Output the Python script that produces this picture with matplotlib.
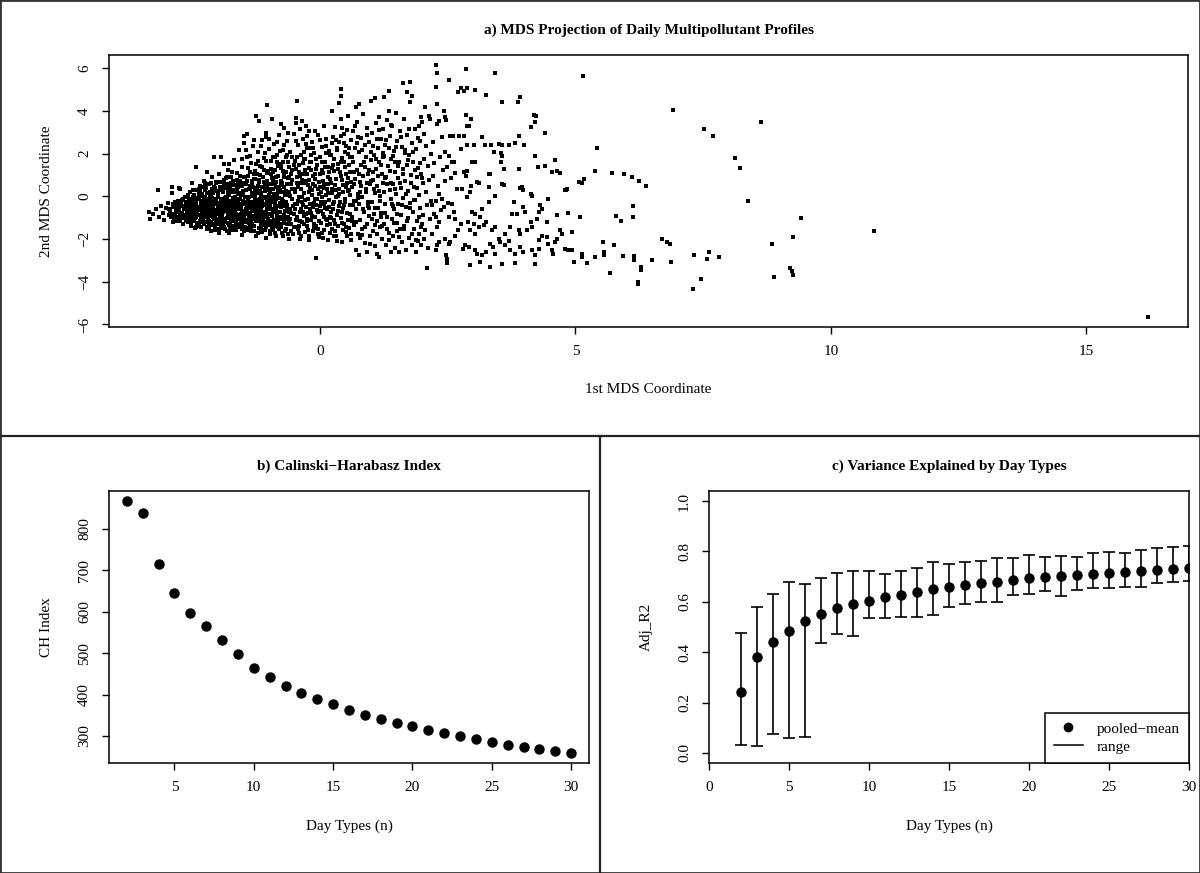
import numpy as np
import matplotlib.pyplot as plt
from matplotlib.lines import Line2D
from matplotlib.patches import Rectangle

plt.rcParams['font.family'] = ['Liberation Serif', 'DejaVu Serif']

# a) MDS coordinates, read off the picture strip by strip (1st, 2nd)
mds_left = [
    (-3.35, -0.72), (-3.32, -1.05), (-3.28, -0.85), (-3.22, -0.60), (-3.18, 0.27), (-3.15, -0.95), (-3.12, -0.45),
    (-3.08, -0.78), (-3.05, -1.12), (-3.02, -0.55), (-2.98, -0.30), (-2.96, -0.90), (-2.93, -0.68), (-2.90, 0.15),
    (-2.89, 0.41), (-2.88, -1.20), (-2.86, -0.40), (-2.84, -0.82), (-2.82, -0.58), (-2.80, -1.02), (-2.78, -0.20),
    (-2.76, 0.38), (-2.76, -0.70), (-2.74, 0.35), (-2.72, -0.95), (-2.70, -0.48), (-2.68, -1.28), (-2.66, -0.62),
    (-2.64, -0.05), (-2.62, -0.88), (-2.61, -0.35), (-2.60, -1.10),
    (-2.58, -0.42), (-2.57, -1.05), (-2.56, -0.15), (-2.55, -0.72), (-2.54, 0.22), (-2.53, -1.38), (-2.52, -0.55),
    (-2.51, -0.92), (-2.50, 0.64), (-2.49, -0.28), (-2.48, -1.18), (-2.47, -0.63), (-2.46, 0.05), (-2.45, -0.85),
    (-2.44, -1.50), (-2.43, 1.35), (-2.43, -0.38), (-2.42, -0.98), (-2.41, 0.31), (-2.40, -0.70), (-2.39, -1.25),
    (-2.38, -0.12), (-2.37, -0.52), (-2.36, 0.48), (-2.35, -0.88), (-2.34, -1.42), (-2.33, -0.30), (-2.32, 0.12),
    (-2.31, -0.78), (-2.30, -1.08), (-2.29, -0.45), (-2.28, 0.72), (-2.27, -1.32), (-2.26, -0.60), (-2.25, -0.02),
    (-2.24, -0.95), (-2.23, 0.38), (-2.22, -0.22), (-2.21, 1.12), (-2.21, -1.55), (-2.20, -0.68),
    (-2.19, -0.35), (-2.18, 0.55), (-2.17, -1.15), (-2.16, -0.80), (-2.15, 0.18), (-2.14, -1.62), (-2.13, -0.50),
    (-2.12, 0.88), (-2.11, -0.10), (-2.10, -1.28), (-2.09, -0.65), (-2.08, 0.32), (-2.07, 1.86), (-2.06, -0.92),
    (-2.05, -1.45), (-2.04, -0.25), (-2.03, 0.68), (-2.02, -0.75), (-2.01, -1.05), (-2.00, 0.05), (-1.99, -0.42),
    (-1.98, 1.02), (-1.97, -1.70), (-1.96, -0.58), (-1.95, 0.42), (-1.94, -1.20), (-1.93, 1.86), (-1.93, -0.18),
    (-1.92, -0.88), (-1.91, 0.22), (-1.90, -1.38), (-1.89, -0.32), (-1.88, 1.52), (-1.88, 0.75), (-1.87, -0.70),
    (-1.86, -1.52), (-1.85, -0.05), (-1.84, 0.52), (-1.83, -1.00), (-1.82, -0.48), (-1.81, 1.25), (-1.80, -1.25),
    (-1.80, 0.15),
]

mds_core = [
    (-1.79, -0.62), (-1.78, 1.52), (-1.78, -1.72), (-1.77, 0.35), (-1.76, -0.22), (-1.75, -0.95), (-1.74, 0.92),
    (-1.73, -1.40), (-1.72, -0.40), (-1.71, 0.58), (-1.70, -0.08), (-1.69, -1.15), (-1.68, 1.68), (-1.67, -0.72),
    (-1.66, 0.20), (-1.65, -1.58), (-1.64, -0.52), (-1.63, 1.10), (-1.62, -0.30), (-1.61, -0.88), (-1.60, 0.45),
    (-1.59, -1.30), (-1.58, 2.15), (-1.58, -0.15), (-1.57, 0.72), (-1.56, -1.05), (-1.55, -0.60), (-1.54, 0.08),
    (-1.53, -1.82), (-1.52, 1.35), (-1.51, -0.38), (-1.50, -0.98), (-1.49, 0.62), (-1.48, 2.83), (-1.48, 2.50),
    (-1.47, -1.22), (-1.46, -0.25), (-1.45, 0.30), (-1.44, 2.90), (-1.44, -0.75), (-1.43, 1.85), (-1.42, -1.48),
    (-1.41, 0.95), (-1.40, -0.02), (-1.40, -0.55),
    (-1.39, -1.10), (-1.38, 0.48), (-1.37, -0.35), (-1.36, 1.55), (-1.35, -1.65), (-1.34, -0.68), (-1.33, 0.15),
    (-1.32, 2.35), (-1.31, -0.92), (-1.30, 0.82), (-1.29, -1.38), (-1.28, -0.12), (-1.27, 1.20), (-1.26, -0.50),
    (-1.25, 3.77), (-1.25, -1.85), (-1.24, 0.38), (-1.23, -0.80), (-1.22, 2.05), (-1.21, -0.28), (-1.20, -1.18),
    (-1.19, 3.54), (-1.19, 0.65), (-1.18, -0.58), (-1.17, 1.42), (-1.16, -1.52), (-1.15, 0.02), (-1.14, -0.95),
    (-1.13, 2.62), (-1.12, 0.92), (-1.11, -0.40), (-1.10, -1.28), (-1.09, 1.78), (-1.08, 0.25), (-1.07, -0.72),
    (-1.06, -1.95), (-1.05, 2.98), (-1.05, 2.79), (-1.04, 4.28), (-1.04, -0.18), (-1.03, 1.08), (-1.02, -1.05),
    (-1.01, 0.55), (-1.00, -0.48), (-1.00, 2.22),
    (-0.99, -1.62), (-0.98, 0.18), (-0.97, 1.65), (-0.96, -0.85), (-0.95, -0.05), (-0.94, 3.63), (-0.94, -1.35),
    (-0.93, 0.75), (-0.92, -0.60), (-0.91, 2.45), (-0.90, -1.12), (-0.89, 1.25), (-0.88, -0.30), (-0.87, -1.88),
    (-0.86, 0.42), (-0.85, 1.95), (-0.84, -0.78), (-0.83, -1.45), (-0.82, 0.95), (-0.81, -0.10), (-0.80, 2.85),
    (-0.79, -1.02), (-0.78, 0.30), (-0.77, 1.52), (-0.76, 3.40), (-0.76, -0.52), (-0.75, -1.70), (-0.74, 0.62),
    (-0.73, 2.18), (-0.72, -0.22), (-0.71, -1.25), (-0.70, 3.21), (-0.70, 1.08), (-0.69, -0.70), (-0.68, 0.05),
    (-0.67, 1.82), (-0.66, -1.52), (-0.65, -0.40), (-0.64, 2.60), (-0.63, 0.85), (-0.62, -0.95), (-0.61, 1.38),
    (-0.60, -1.98), (-0.60, 0.22),
    (-0.59, -0.62), (-0.58, 2.05), (-0.57, -1.32), (-0.56, 0.55), (-0.55, -0.15), (-0.54, 1.22), (-0.53, -1.75),
    (-0.52, 2.92), (-0.51, -0.85), (-0.50, 0.32), (-0.49, 1.65), (-0.48, -1.10), (-0.47, 3.68), (-0.47, 3.45),
    (-0.46, -0.38), (-0.45, 4.45), (-0.45, 0.88), (-0.44, -1.55), (-0.43, 2.38), (-0.42, -0.05), (-0.41, 1.45),
    (-0.40, -0.72), (-0.39, -2.02), (-0.38, 0.62), (-0.37, 1.92), (-0.36, -1.22), (-0.35, 3.54), (-0.35, -0.28),
    (-0.34, 1.05), (-0.33, 2.70), (-0.32, -0.92), (-0.31, 0.15), (-0.30, -1.68), (-0.29, 1.75), (-0.28, -0.50),
    (-0.27, 3.30), (-0.27, 0.72), (-0.26, -1.38), (-0.25, 2.25), (-0.24, -0.12), (-0.23, -0.80), (-0.22, 1.30),
    (-0.21, 3.07), (-0.21, -1.85), (-0.20, 0.40),
    (-0.19, -0.58), (-0.18, 1.58), (-0.17, -1.12), (-0.16, 2.55), (-0.15, 0.08), (-0.14, -1.62), (-0.13, 0.95),
    (-0.12, -0.32), (-0.11, 2.02), (-0.10, -0.95), (-0.09, 0.48), (-0.08, -2.91), (-0.08, -1.40), (-0.07, 1.28),
    (-0.06, -0.15), (-0.05, 2.88), (-0.04, -0.75), (-0.03, 0.68), (-0.02, -1.90), (-0.01, 1.82), (0.00, -0.45),
    (0.01, 0.22), (0.02, -1.25), (0.03, 2.32), (0.04, -0.05), (0.05, 1.10), (0.06, -0.82), (0.07, -1.58),
    (0.08, 3.30), (0.08, 0.55), (0.09, -0.28), (0.10, 1.62), (0.11, -1.05), (0.12, 2.68), (0.13, 0.32),
    (0.14, -0.62), (0.15, -2.05), (0.16, 1.35), (0.17, -0.18), (0.18, 2.10), (0.19, -1.32), (0.20, 0.82),
]

mds_dense = [
    (-2.95, -0.62), (-2.91, -0.95), (-2.87, -0.38), (-2.83, -1.15), (-2.79, -0.50), (-2.75, -0.82), (-2.71, -0.18),
    (-2.67, -1.02), (-2.63, -0.58), (-2.59, -1.22), (-2.56, -0.32), (-2.53, -0.80), (-2.49, -0.05), (-2.46, -1.12),
    (-2.44, -0.48), (-2.41, -1.30), (-2.38, -0.88), (-2.35, 0.25), (-2.33, -0.62), (-2.30, -0.20), (-2.27, -0.98),
    (-2.24, 0.48), (-2.22, -1.42), (-2.19, -0.72), (-2.16, -0.08), (-2.14, -1.20), (-2.11, 0.35), (-2.09, -0.48),
    (-2.06, -1.58), (-2.04, 0.62), (-2.01, -0.85), (-1.99, 0.12), (-1.96, -1.32), (-1.94, -0.62), (-1.92, 0.45),
    (-1.89, -1.08), (-1.87, -0.22), (-1.85, 0.85), (-1.82, -1.62), (-1.80, -0.52), (-1.78, 0.05), (-1.76, -1.25),
    (-1.74, 0.62), (-1.72, -0.78), (-1.70, -1.48), (-1.68, 0.30), (-1.66, -0.35), (-1.64, -1.02), (-1.62, 0.78),
    (-1.60, -0.62), (-1.58, -1.45), (-1.56, 0.15), (-1.54, -0.85), (-1.52, 0.48), (-1.50, -0.22), (-1.48, -1.65),
    (-1.46, 0.88), (-1.44, -0.45), (-1.42, -1.12), (-1.40, 0.32), (-1.38, -0.78), (-1.36, -1.52), (-1.34, 0.62),
    (-1.32, -0.25), (-1.30, 1.05), (-1.28, -1.05), (-1.26, 0.18), (-1.24, -0.55), (-1.22, -1.72), (-1.20, 0.75),
    (-1.18, -0.12), (-1.16, -1.32), (-1.14, 0.42), (-1.12, -0.82), (-1.10, 1.25), (-1.08, -1.58), (-1.06, -0.35),
    (-1.04, 0.72), (-1.02, -1.15), (-1.00, 0.08), (-0.98, -0.62), (-0.96, 1.05), (-0.94, -1.42), (-0.92, 0.32),
    (-0.90, -0.28), (-0.88, -1.72), (-0.86, 0.68), (-0.84, -0.95), (-0.82, 1.42), (-0.80, -0.48), (-0.78, -1.28),
    (-0.76, 0.52), (-0.74, -0.15), (-0.72, 1.18), (-0.70, -0.88), (-0.68, -1.62), (-0.66, 0.25), (-0.64, -0.55),
    (-0.62, 1.62), (-0.60, -1.18), (-0.58, 0.02), (-0.56, -0.78), (-0.54, 0.78), (-0.52, -1.42), (-0.50, -0.35),
    (-0.48, 1.28), (-0.46, -0.98), (-0.44, 0.42), (-0.42, -1.72), (-0.40, 0.95), (-0.38, -0.58), (-0.36, -0.05),
    (-0.34, 1.55), (-0.32, -1.30), (-0.30, 0.62), (-0.28, -0.82), (-0.26, 1.02), (-0.24, -1.58), (-0.22, 0.18),
    (-0.20, -0.38), (-0.18, 1.25), (-0.16, -0.92), (-0.14, 0.55), (-0.12, -1.48), (-0.10, -0.12), (-0.08, 1.72),
    (-0.06, -0.65), (-0.04, 0.32), (-0.02, -1.15), (0.00, 1.05), (0.02, -0.28), (0.04, -1.72), (0.06, 0.72),
    (0.08, -0.95), (0.10, 1.38), (0.12, 0.05), (0.14, -1.35), (0.16, 0.92), (0.18, -0.52), (0.20, 1.92),
    (0.22, -1.02), (0.24, 0.35), (0.26, 1.45), (0.28, -0.25), (0.30, -1.62), (0.32, 0.82), (0.34, 2.25),
    (0.36, -0.68), (0.38, 0.12), (0.40, 1.62), (0.42, -1.25), (0.44, 0.52), (0.46, -0.42), (0.48, 2.05),
    (0.50, 1.02), (0.52, -1.85), (0.54, 0.25), (0.56, 1.48), (0.58, -0.85), (0.60, 0.68),
    (-2.32, -1.05), (-2.29, -0.35), (-2.26, -0.78), (-2.23, -0.15), (-2.20, -1.22), (-2.17, -0.55), (-2.15, 0.10),
    (-2.12, -0.92), (-2.10, -0.28), (-2.07, 0.45), (-2.05, -0.65), (-2.02, -1.30), (-2.00, -0.05), (-1.97, -0.42),
    (-1.95, -0.95), (-1.93, 0.28), (-1.90, -0.75), (-1.88, -1.42), (-1.86, -0.08), (-1.83, 0.55), (-1.81, -0.92),
    (-1.79, -0.28), (-1.77, -1.55), (-1.75, 0.22), (-1.73, -0.58), (-1.71, -1.12), (-1.69, 0.52), (-1.67, -0.15),
    (-1.65, -0.85), (-1.63, -1.38), (-1.61, 0.12), (-1.59, -0.48), (-1.57, 0.62), (-1.55, -1.22), (-1.53, -0.68),
    (-1.51, 0.25), (-1.49, -1.02), (-1.47, -0.38), (-1.45, 0.55), (-1.43, -1.58), (-1.41, -0.12), (-1.39, -0.92),
    (-1.37, 0.35), (-1.35, -0.52), (-1.33, -1.28), (-1.31, 0.02), (-1.29, -0.65), (-1.27, 0.82), (-1.25, -1.15),
    (-1.23, -0.32), (-1.21, 0.48), (-1.19, -0.88), (-1.17, -1.48), (-1.15, 0.15), (-1.13, -0.45), (-1.11, 0.92),
    (-1.09, -1.22), (-1.07, -0.05), (-1.05, -0.72), (-1.03, 0.38), (-1.01, -1.35), (-0.99, -0.25), (-0.97, 0.58),
    (-0.95, -0.92), (-0.93, -1.58), (-0.91, 0.12), (-0.89, -0.52), (-0.87, 0.88), (-0.85, -1.18), (-0.83, -0.08),
    (-0.81, 0.45), (-0.79, -0.72), (-0.77, -1.45), (-0.75, 0.18), (-0.73, -0.42), (-0.71, 0.92), (-0.69, -1.05),
    (-0.67, -0.25), (-0.65, 0.58), (-0.63, -1.75),
]

# second pass over the saturated core
mds_fill_core = [
    (-2.90, -0.82), (-2.88, -0.52), (-2.86, -1.02), (-2.84, -0.28), (-2.82, -0.75), (-2.80, -0.35), (-2.78, -0.95),
    (-2.76, -0.55), (-2.74, -1.15), (-2.72, -0.30), (-2.70, -0.78), (-2.68, -0.12), (-2.66, -0.92), (-2.64, -0.45),
    (-2.62, -1.18), (-2.60, -0.68), (-2.58, 0.05), (-2.56, -0.98), (-2.54, -0.62), (-2.52, -1.30), (-2.50, -0.40),
    (-2.48, 0.28), (-2.46, -0.75), (-2.44, -1.02), (-2.42, -0.18), (-2.40, -0.52), (-2.38, -1.38), (-2.36, -0.65),
    (-2.34, 0.02), (-2.32, -0.42), (-2.30, 0.45), (-2.28, -0.85), (-2.26, -1.20), (-2.24, -0.32), (-2.22, 0.15),
    (-2.20, -0.92), (-2.18, -1.45), (-2.16, -0.40), (-2.14, 0.62), (-2.12, -0.68), (-2.10, 0.15), (-2.08, -1.08),
    (-2.06, -0.38), (-2.04, -1.25), (-2.02, 0.25), (-2.00, -0.62), (-1.98, -1.55), (-1.96, 0.68), (-1.94, -0.15),
    (-1.92, -1.05), (-1.90, -0.50), (-1.88, 0.38), (-1.86, -1.22), (-1.84, -0.30), (-1.82, 0.92), (-1.80, -0.78),
    (-1.78, -1.35), (-1.76, 0.48), (-1.74, -0.42), (-1.72, -1.60), (-1.70, 0.72), (-1.68, -0.92), (-1.66, -0.05),
    (-1.64, -1.28), (-1.62, 0.35), (-1.60, -0.32), (-1.58, -1.05), (-1.56, 0.95), (-1.54, -0.48), (-1.52, -1.35),
    (-1.50, 0.12), (-1.48, -0.78), (-1.46, -1.45), (-1.44, 0.72), (-1.42, -0.28), (-1.40, -1.25), (-1.38, 1.12),
    (-1.36, -0.45), (-1.34, -0.98), (-1.32, 0.42), (-1.30, -1.62), (-1.28, 0.28), (-1.26, -0.82), (-1.24, 1.02),
    (-1.22, -0.42), (-1.20, -1.48), (-1.18, 0.25), (-1.16, -0.72), (-1.14, 1.38), (-1.12, -1.12), (-1.10, -0.08),
    (-1.08, 0.58), (-1.06, -1.42), (-1.04, -0.55), (-1.02, 1.18), (-1.00, -0.85), (-0.98, -1.78), (-0.96, 0.35),
    (-0.94, -0.22), (-0.92, 1.15), (-0.90, -1.35), (-0.88, 0.55), (-0.86, -0.62), (-0.84, 1.62), (-0.82, -1.22),
    (-0.80, 0.18), (-0.78, -0.32), (-0.76, 1.32), (-0.74, -1.05), (-0.72, -1.85), (-0.70, 0.45), (-0.68, -0.48),
    (-0.66, 1.15), (-0.64, -1.28), (-0.62, 0.05), (-0.60, 0.92), (-0.58, -1.05), (-0.56, -1.62), (-0.54, 0.32),
    (-0.52, 1.48), (-0.50, -0.62), (-0.48, -1.45), (-0.46, 0.62), (-0.44, -0.22), (-0.42, 1.12), (-0.40, -1.18),
    (-0.38, -1.88), (-0.36, 0.78), (-0.34, -0.42), (-0.32, 1.72),
    (-2.57, -0.78), (-2.51, -0.18), (-2.47, -0.95), (-2.43, -0.62), (-2.39, -0.08), (-2.35, -1.15), (-2.31, -0.55),
    (-2.27, -0.12), (-2.23, -0.62), (-2.19, -1.02), (-2.15, -0.28), (-2.11, -1.35), (-2.07, -0.82), (-2.03, -0.12),
    (-1.99, -1.12), (-1.95, -0.35), (-1.91, -0.65), (-1.87, -1.18), (-1.83, -0.15), (-1.79, -0.68), (-1.75, -1.08),
    (-1.71, -0.25), (-1.67, -0.62), (-1.63, 0.22), (-1.59, -0.88), (-1.55, -0.35), (-1.51, -1.18), (-1.47, -0.05),
    (-1.43, -0.85), (-1.39, -0.28), (-1.35, -1.12), (-1.31, -0.48), (-1.27, 0.05), (-1.23, -1.02), (-1.19, -0.18),
    (-1.15, -0.65), (-1.11, -1.35), (-1.07, 0.28), (-1.03, -0.92), (-0.99, -0.42), (-0.95, 0.58), (-0.91, -1.15),
    (-0.87, -0.15), (-0.83, 0.28), (-0.79, -0.95),
    (-1.52, 1.72), (-1.45, 2.18), (-1.38, 1.88), (-1.30, 2.62), (-1.22, 1.65), (-1.15, 2.35), (-1.08, 2.02),
    (-1.00, 2.68), (-0.92, 1.85), (-0.85, 2.55), (-0.78, 2.12), (-0.70, 2.42), (-0.62, 2.95), (-0.55, 1.82),
    (-0.48, 2.58), (-0.40, 3.15), (-0.32, 2.05), (-0.25, 2.82), (-0.18, 1.95), (-0.10, 3.05),
    (-2.45, -0.22), (-2.41, -0.78), (-2.37, 0.12), (-2.33, -1.22), (-2.29, -0.68), (-2.25, 0.28), (-2.21, -0.48),
    (-2.17, -1.32), (-2.13, 0.02), (-2.09, -0.95), (-2.05, 0.38), (-2.01, -0.32), (-1.97, -0.78), (-1.93, -1.48),
    (-1.89, 0.62), (-1.85, -0.58), (-1.81, 0.32), (-1.77, -0.95), (-1.73, 1.15), (-1.69, -0.45), (-1.65, -1.22),
    (-1.61, 0.55), (-1.57, -0.12), (-1.53, -1.55), (-1.49, 0.88), (-1.45, -0.62), (-1.41, 1.32), (-1.37, -1.35),
    (-1.33, 0.72), (-1.29, -0.32), (-1.25, 1.52), (-1.21, -0.65), (-1.17, 0.98), (-1.13, -1.68), (-1.09, 0.45),
    (-1.05, 1.65), (-1.01, -0.12), (-0.97, 1.28), (-0.93, -0.72), (-0.89, 1.85), (-0.85, 0.12), (-0.81, -1.55),
    (-0.77, 0.72), (-0.73, 1.58), (-0.69, -0.32), (-0.65, 1.95), (-0.61, -0.72), (-0.57, 1.02), (-0.53, -0.45),
    (-0.49, 0.18), (-0.45, 1.85), (-0.41, -1.38), (-0.37, 0.35), (-0.33, -0.75), (-0.29, 1.22), (-0.25, -1.18),
    (-0.21, 0.78), (-0.17, 2.28), (-0.13, -0.52), (-0.09, 1.05), (-0.05, -1.75), (-0.01, 0.45),
    (-2.62, -0.25), (-2.58, -0.95), (-2.54, -1.12), (-2.50, -0.72), (-2.46, -0.05), (-2.42, -1.45), (-2.38, 0.35),
    (-2.34, -0.95), (-2.30, -0.38), (-2.26, 0.62), (-1.22, 0.15), (-1.18, -1.05), (-1.14, -0.28), (-1.10, 0.65),
    (-1.06, -0.98), (-1.02, 0.28), (-0.98, -1.15), (-0.94, 0.85), (-0.90, 0.05), (-0.86, -1.38),
]

mds_fill_mid = [
    (-0.30, -0.18), (-0.28, 2.45), (-0.26, -1.05), (-0.24, 0.52), (-0.22, -2.05), (-0.20, 1.58), (-0.18, -0.78),
    (-0.16, 0.28), (-0.14, 2.25), (-0.12, -1.28), (-0.10, 0.82), (-0.08, -0.42), (-0.06, 1.48), (-0.04, -1.52),
    (-0.02, 0.12), (0.00, 2.62), (0.02, -0.68), (0.04, 1.25), (0.06, -1.95), (0.08, 0.38), (0.10, -0.55),
    (0.12, 2.02), (0.14, -1.12), (0.16, 0.15), (0.18, 1.15), (0.20, -1.72), (0.22, 0.62), (0.24, 2.48),
    (0.26, -0.58), (0.28, 1.72), (0.30, -1.32), (0.32, 0.28), (0.34, -2.08), (0.36, 1.28), (0.38, -0.45),
    (0.40, 2.82), (0.42, 0.78), (0.44, -1.58), (0.46, 1.62), (0.48, -0.28), (0.50, 0.42), (0.52, 3.08),
    (0.54, -1.12), (0.56, 2.28), (0.58, 0.05), (0.60, -1.75), (0.62, 1.85), (0.64, -0.42), (0.66, 0.58),
    (0.68, 3.28), (0.70, -1.22), (0.72, 2.48), (0.74, -0.08), (0.76, 1.05), (0.78, -1.95), (0.80, 0.48),
    (0.82, 2.15), (0.84, -0.62), (0.86, 1.62), (0.88, -1.45), (0.90, 0.18), (0.92, 2.85), (0.94, -0.25),
    (0.96, 1.25), (0.98, -2.25), (1.00, 0.72), (1.02, -1.05), (1.04, 2.35), (1.06, 0.35), (1.08, -0.55),
    (1.10, 1.75), (1.12, -1.75), (1.14, 0.95), (1.16, 3.12), (1.18, -0.22), (1.20, 1.48), (1.22, -1.38),
    (1.24, 2.02), (1.26, 0.18), (1.28, -0.78), (1.30, 2.62), (1.32, 0.55), (1.34, -2.05), (1.36, 1.18),
    (1.38, 3.35), (1.40, -0.35), (1.42, 1.88), (1.44, -1.25), (1.46, 0.35), (1.48, 2.32), (1.50, -0.85),
    (1.52, 1.42), (1.54, -1.92), (1.56, 0.62), (1.58, 2.75), (1.60, -0.42), (1.62, 1.05), (1.64, -1.55),
    (1.66, 2.18), (1.68, 0.12), (1.70, -1.15), (1.72, 1.68), (1.74, 3.15), (1.76, -0.55), (1.78, 0.62),
    (1.80, -1.78), (1.82, 2.05), (1.84, -0.18), (1.86, 1.25), (1.88, -2.05), (1.90, 0.38), (1.92, 2.72),
    (1.94, -0.95), (1.96, 1.55), (1.98, -1.42), (2.00, 0.85),
    (0.03, 1.58), (0.07, -0.38), (0.11, 2.35), (0.15, 0.58), (0.19, -0.95), (0.23, 1.32), (0.27, -1.85),
    (0.31, 2.62), (0.35, 0.02), (0.39, 1.12), (0.43, -0.72), (0.47, 2.48), (0.51, -1.45), (0.55, 0.85),
    (0.59, 1.82), (0.63, -1.18), (0.67, 1.12), (0.71, -0.22), (0.75, 2.75), (0.79, 0.22), (0.83, -1.82),
    (0.87, 1.35), (0.91, 0.62), (0.95, -0.55), (0.99, 2.05), (1.03, 1.12), (1.07, -1.35), (1.11, 2.68),
    (1.15, 0.25), (1.19, -0.95), (1.23, 1.82), (1.27, 0.85), (1.31, -1.55), (1.35, 2.25), (1.39, 0.62),
    (1.43, -0.48), (1.47, 1.58), (1.51, -1.62),
]

mds_mid = [
    (0.21, -0.72), (0.22, 1.95), (0.23, 4.00), (0.23, -1.55), (0.24, 0.15), (0.25, 2.78), (0.26, -0.38),
    (0.27, 1.18), (0.28, -1.12), (0.29, 3.22), (0.30, 0.52), (0.31, -1.88), (0.32, -0.05), (0.33, 2.15),
    (0.34, -0.88), (0.35, 1.52), (0.36, -1.40), (0.37, 4.38), (0.37, 0.35), (0.38, 2.52), (0.39, -0.25),
    (0.40, 5.03), (0.40, 4.71), (0.40, -1.02), (0.41, 3.63), (0.41, 0.95), (0.42, -2.15), (0.43, 3.21),
    (0.43, 1.78), (0.44, -0.55), (0.45, 0.18), (0.46, 2.92), (0.47, -1.28), (0.48, 1.35), (0.49, -0.12),
    (0.50, -1.68), (0.51, 2.35), (0.52, 0.62), (0.53, -0.78), (0.54, 1.98), (0.55, 3.75), (0.56, -1.48),
    (0.57, 0.28), (0.58, 1.12), (0.59, -0.42), (0.60, 2.65),
    (0.61, -2.05), (0.62, 0.45), (0.63, -0.95), (0.64, 1.62), (0.65, 3.05), (0.66, -0.20), (0.67, -1.35),
    (0.68, 2.28), (0.69, 0.82), (0.70, 4.16), (0.70, -2.54), (0.71, -0.62), (0.72, 1.25), (0.73, 3.48),
    (0.74, 0.10), (0.75, -1.75), (0.76, 4.32), (0.76, -2.77), (0.76, 2.05), (0.77, -0.35), (0.78, 0.68),
    (0.79, -1.10), (0.80, 2.72), (0.81, 1.48), (0.82, -0.05), (0.83, -1.52), (0.84, 3.85), (0.85, 0.95),
    (0.86, -0.72), (0.87, 2.38), (0.88, -2.20), (0.89, 0.32), (0.90, 1.85), (0.91, -1.28), (0.92, -2.62),
    (0.92, 3.20), (0.93, -0.45), (0.94, 1.05), (0.95, -0.92), (0.96, 2.52), (0.97, 0.55), (0.98, -1.88),
    (0.99, 4.47), (0.99, 1.68),
    (1.01, -0.28), (1.02, 2.95), (1.03, -1.62), (1.04, 0.78), (1.05, 1.92), (1.06, -0.85), (1.07, 4.58),
    (1.07, 0.15), (1.08, -2.35), (1.09, 3.42), (1.10, 1.28), (1.11, -1.18), (1.12, -2.69), (1.12, 0.48),
    (1.13, 2.25), (1.14, -0.55), (1.15, -2.85), (1.15, 3.72), (1.16, 1.58), (1.17, -1.45), (1.18, 0.02),
    (1.19, 2.68), (1.20, -0.78), (1.21, 1.02), (1.22, -2.02), (1.23, 3.15), (1.24, 0.62), (1.25, 4.63),
    (1.25, -1.30), (1.26, 1.88), (1.27, -0.38), (1.28, 2.42), (1.29, -2.28), (1.30, 0.92), (1.31, 3.58),
    (1.32, -0.95), (1.33, 1.40), (1.34, -1.72), (1.35, 4.94), (1.35, 4.00), (1.36, 0.30), (1.37, 2.80),
    (1.38, -2.62), (1.38, -0.15), (1.39, 1.72), (1.40, -1.05),
    (1.41, 3.30), (1.42, 0.55), (1.43, -1.88), (1.44, 2.12), (1.45, -0.62), (1.46, 1.15), (1.47, -2.40),
    (1.48, 3.88), (1.49, 0.12), (1.50, -1.25), (1.51, 2.58), (1.52, 0.85), (1.53, -0.35), (1.54, -2.62),
    (1.55, 1.62), (1.56, -1.55), (1.57, 3.05), (1.58, 0.38), (1.59, -0.88), (1.60, 2.30), (1.61, -2.15),
    (1.62, 1.28), (1.63, 5.30), (1.63, -0.10), (1.64, 3.62), (1.65, -1.40), (1.66, 0.72), (1.67, 2.02),
    (1.68, -2.50), (1.69, -0.52), (1.70, 1.45), (1.71, 4.89), (1.71, 2.85), (1.72, -1.02), (1.73, 0.25),
    (1.74, -1.95), (1.75, 1.95), (1.76, 5.36), (1.77, 4.39), (1.77, -0.30), (1.78, 0.98), (1.79, 4.71),
    (1.79, -2.28), (1.80, 2.48),
    (1.81, -0.75), (1.82, 1.62), (1.83, -1.52), (1.84, 0.42), (1.85, 3.15), (1.86, -0.18), (1.87, -2.62),
    (1.88, 2.20), (1.89, 0.88), (1.90, -1.15), (1.91, 1.30), (1.92, -2.10), (1.93, 3.30), (1.93, -1.76),
    (1.94, 0.05), (1.95, 2.60), (1.96, -0.55), (1.97, 3.69), (1.97, -2.30), (1.98, 1.05), (2.00, 3.46),
    (2.00, -1.29), (2.01, 0.62), (2.02, -0.88), (2.03, 2.92), (2.03, -1.99), (2.04, 1.75), (2.06, 4.16),
    (2.06, -1.60), (2.07, 0.20), (2.08, 2.35), (2.09, -0.42), (2.10, -3.35), (2.11, 1.42), (2.12, -2.40),
    (2.13, 3.77), (2.14, 0.75), (2.15, -1.05), (2.16, 3.62), (2.17, 1.98), (2.18, -0.20), (2.19, -0.43),
    (2.19, -1.76),
]

mds_right = [
    (2.21, 0.95), (2.22, 2.55), (2.23, -0.85), (2.24, 1.55), (2.26, 6.14), (2.26, 5.13), (2.26, -0.20),
    (2.26, -0.98), (2.26, -2.54), (2.28, 5.75), (2.28, 4.32), (2.29, 3.38), (2.29, -1.45), (2.29, -2.30),
    (2.30, 0.48), (2.32, 3.54), (2.32, 0.11), (2.32, -1.21), (2.32, -2.15), (2.34, 1.85), (2.36, -0.65),
    (2.38, 2.78), (2.39, -0.12), (2.40, 1.22), (2.42, -0.51), (2.43, 4.00), (2.44, 0.72), (2.45, 3.69),
    (2.45, 2.06), (2.45, -1.99), (2.46, -2.75), (2.47, 3.58), (2.48, 1.38), (2.49, -2.93), (2.49, -3.13),
    (2.50, -0.30), (2.52, 5.44), (2.52, 1.90), (2.52, -0.98), (2.52, -2.22), (2.54, 2.84), (2.55, -2.15),
    (2.56, 0.85), (2.58, -0.36), (2.58, 1.62),
    (2.61, 2.84), (2.62, 1.59), (2.62, -0.75), (2.64, 1.09), (2.65, -1.06), (2.65, -1.84), (2.68, 0.32),
    (2.70, 4.89), (2.71, -1.60), (2.72, 2.84), (2.75, 5.05), (2.75, -1.29), (2.76, 2.22), (2.78, 0.35),
    (2.80, -2.45), (2.81, 2.84), (2.81, 1.12), (2.82, 4.91), (2.83, -2.30), (2.85, 3.80), (2.85, 0.97),
    (2.86, 5.95), (2.87, 3.30), (2.88, 5.09), (2.88, 2.40), (2.88, 1.20), (2.88, -0.05), (2.90, -1.20),
    (2.91, -2.38), (2.92, 3.27), (2.94, 0.19), (2.94, -1.60), (2.94, -3.24), (2.96, 3.62), (2.96, 0.47),
    (2.97, 1.62), (2.97, -0.75),
    (3.01, 2.40), (3.01, -1.29), (3.04, 4.97), (3.04, 1.59), (3.04, -0.82), (3.04, -1.76), (3.04, -2.54),
    (3.07, 0.65), (3.07, -2.69), (3.11, 0.63), (3.11, -1.45), (3.14, -0.98), (3.14, -3.08), (3.17, 2.76),
    (3.17, -0.59), (3.17, -2.77), (3.20, -1.37), (3.22, 2.40), (3.24, 4.74), (3.24, -1.21), (3.24, -2.62),
    (3.30, 1.05), (3.30, 0.42), (3.30, -0.28), (3.33, 1.05), (3.33, -2.22), (3.33, -3.32), (3.35, 2.40),
    (3.37, -1.60), (3.38, -2.38), (3.40, 2.09), (3.43, 5.77), (3.43, 0.03), (3.43, -1.45), (3.43, -2.69),
    (3.50, 2.45), (3.50, -1.99),
    (3.53, -2.15), (3.54, 1.59), (3.55, 2.03), (3.56, 2.40), (3.56, 1.90), (3.56, 0.58), (3.56, -3.16),
    (3.57, 4.43), (3.61, 1.28), (3.61, 0.53), (3.62, -1.76), (3.63, -2.30), (3.69, 2.40), (3.69, -2.10),
    (3.72, -1.45), (3.72, -2.54), (3.76, -0.82), (3.79, -0.28), (3.81, 2.50), (3.81, -3.13), (3.82, -2.69),
    (3.85, -0.82), (3.87, 4.43), (3.89, 2.80), (3.89, -1.60), (3.90, 1.28), (3.91, 4.64), (3.92, 0.37),
    (3.92, -1.76), (3.92, -2.38), (3.95, 0.42), (3.98, 0.30), (3.98, -0.51), (3.98, -2.62),
    (4.00, 2.40), (4.02, -0.75), (4.05, -1.60), (4.12, 0.11), (4.12, -1.21), (4.13, 3.24), (4.15, 0.03),
    (4.15, -1.45), (4.15, -2.54), (4.18, 3.80), (4.20, 3.46), (4.20, 1.87), (4.21, -2.77), (4.21, -3.19),
    (4.22, 3.77), (4.24, -1.06), (4.26, 1.36), (4.28, -0.75), (4.28, -2.07), (4.28, -2.46), (4.31, -0.43),
    (4.34, -0.59), (4.34, -1.84), (4.41, 2.94), (4.41, 1.43), (4.44, -1.92), (4.44, -1.21), (4.47, -0.12),
    (4.47, -2.22), (4.54, 1.15), (4.54, -2.54), (4.56, -2.69), (4.59, 1.71), (4.60, -2.15), (4.63, 1.20),
    (4.64, -1.99), (4.64, -0.90), (4.70, 1.09), (4.70, -1.60), (4.73, -1.76), (4.80, 0.30), (4.80, -2.46),
    (4.83, 0.35), (4.85, -0.78), (4.86, -2.54), (4.93, -1.68), (4.93, -2.50), (4.98, -3.10), (5.06, 0.65),
]

mds_outliers = [
    (5.14, 5.63), (6.90, 4.05), (8.64, 3.46), (7.51, 3.16), (7.69, 2.80), (5.43, 2.28), (8.13, 1.81),
    (8.22, 1.31), (8.37, -0.20), (9.42, -1.00), (10.84, -1.62), (9.25, -1.90), (8.84, -2.23), (8.89, -3.77),
    (9.20, -3.35), (9.23, -3.52), (9.26, -3.69), (7.30, -4.35), (7.45, -3.89), (7.82, -2.86), (7.58, -2.96),
    (7.62, -2.63), (7.33, -2.77), (6.87, -3.10), (6.70, -1.99), (6.79, -2.12), (6.86, -2.22), (6.50, -2.97),
    (6.22, -4.03), (6.22, -4.10), (6.28, -3.47), (6.28, -3.32), (6.15, -2.80), (6.15, -3.00), (5.94, -2.79),
    (5.68, -3.61), (5.76, -2.29), (5.54, -2.12), (5.56, -2.62), (5.56, -2.75), (5.38, -2.85), (5.23, -3.13),
    (5.12, -2.69), (5.12, -2.85), (5.79, -0.92), (5.90, -1.15), (6.13, -0.48), (6.13, -0.95), (5.09, -0.98),
    (5.72, 1.09), (5.96, 1.06), (6.11, 0.91), (6.24, 0.69), (6.39, 0.50), (5.39, 1.19), (5.12, 0.61),
    (5.17, 0.83), (4.81, 0.31), (16.21, -5.65),
]

# b) Calinski-Harabasz index
ch_n = list(range(2, 31))
ch_index = [867, 838, 716, 645, 597, 566, 531, 499, 465, 442, 421, 404, 388, 376, 363,
            351, 341, 331, 324, 315, 307, 300, 292, 286, 279, 274, 269, 264, 259]

# c) adjusted R2 per number of day types
r2_n = list(range(2, 31))
r2_mean = [0.240, 0.380, 0.440, 0.486, 0.522, 0.553, 0.575, 0.593, 0.605, 0.618, 0.629, 0.639,
           0.649, 0.659, 0.666, 0.674, 0.679, 0.686, 0.694, 0.697, 0.703, 0.707, 0.711, 0.716,
           0.719, 0.721, 0.727, 0.731, 0.733]
r2_low = [0.033, 0.028, 0.074, 0.059, 0.062, 0.437, 0.474, 0.464, 0.535, 0.536, 0.538, 0.539,
          0.547, 0.580, 0.590, 0.600, 0.600, 0.629, 0.633, 0.642, 0.625, 0.646, 0.653, 0.653,
          0.657, 0.659, 0.676, 0.679, 0.683]
r2_high = [0.478, 0.579, 0.631, 0.678, 0.672, 0.696, 0.716, 0.724, 0.724, 0.709, 0.721, 0.736,
           0.757, 0.749, 0.757, 0.764, 0.773, 0.775, 0.786, 0.779, 0.782, 0.778, 0.795, 0.797,
           0.793, 0.807, 0.815, 0.819, 0.822]

FS = 11
W, H = 1200, 873


def r_axes(ax):
    for s in ax.spines.values():
        s.set_linewidth(1.1)
    ax.tick_params(direction='out', length=5, width=1, labelsize=FS, pad=8)
    for lab in ax.get_yticklabels():
        lab.set_rotation(90)
        lab.set_va('center')
        lab.set_ha('right')


def r_lim(vals):
    lo, hi = min(vals), max(vals)
    d = (hi - lo) * 0.04
    return lo - d, hi + d


fig = plt.figure(figsize=(12, 8.73), dpi=100)

# a) MDS projection
ax_a = fig.add_axes([109 / W, 1 - 327 / H, 1079 / W, 272 / H])
pts = mds_left + mds_core + mds_dense + mds_fill_core + mds_fill_mid + mds_mid + mds_right + mds_outliers
mx = [p[0] for p in pts]
my = [p[1] for p in pts]
ax_a.plot(mx, my, 's', color='black', markersize=2.6, markeredgewidth=0)
ax_a.set_xlim(r_lim(mx))
ax_a.set_ylim(r_lim(my))
ax_a.set_xticks([0, 5, 10, 15])
ax_a.set_yticks([-6, -4, -2, 0, 2, 4, 6])
ax_a.set_title('a) MDS Projection of Daily Multipollutant Profiles', fontsize=FS, fontweight='bold', pad=15)
ax_a.set_xlabel('1st MDS Coordinate', fontsize=FS, labelpad=18)
ax_a.set_ylabel('2nd MDS Coordinate', fontsize=FS, labelpad=18)
r_axes(ax_a)

# b) CH index
ax_b = fig.add_axes([109 / W, 1 - 763 / H, 480 / W, 272 / H])
ax_b.plot(ch_n, ch_index, 'o', color='black', markersize=6.5)
ax_b.set_xlim(r_lim(ch_n))
ax_b.set_ylim(r_lim(ch_index))
ax_b.set_xticks([5, 10, 15, 20, 25, 30])
ax_b.set_yticks([300, 400, 500, 600, 700, 800])
ax_b.set_title('b) Calinski\u2212Harabasz Index', fontsize=FS, fontweight='bold', pad=15)
ax_b.set_xlabel('Day Types (n)', fontsize=FS, labelpad=18)
ax_b.set_ylabel('CH Index', fontsize=FS, labelpad=18)
r_axes(ax_b)

# c) variance explained
ax_c = fig.add_axes([709 / W, 1 - 763 / H, 480 / W, 272 / H])
yerr = [np.array(r2_mean) - np.array(r2_low), np.array(r2_high) - np.array(r2_mean)]
ax_c.errorbar(r2_n, r2_mean, yerr=yerr, fmt='o', color='black', markersize=6.5,
              elinewidth=1.2, capsize=4.2, capthick=1.2)
ax_c.set_xlim(0, 30)
ax_c.set_ylim(-0.04, 1.04)
ax_c.set_xticks([0, 5, 10, 15, 20, 25, 30])
ax_c.set_yticks([0.0, 0.2, 0.4, 0.6, 0.8, 1.0])
ax_c.set_yticklabels(['0.0', '0.2', '0.4', '0.6', '0.8', '1.0'])
ax_c.set_title('c) Variance Explained by Day Types', fontsize=FS, fontweight='bold', pad=15)
ax_c.set_xlabel('Day Types (n)', fontsize=FS, labelpad=18)
ax_c.set_ylabel('Adj_R2', fontsize=FS, labelpad=18)
r_axes(ax_c)
handles = [Line2D([], [], marker='o', color='black', linestyle='none', markersize=6),
           Line2D([], [], color='black', lw=1.1)]
leg = ax_c.legend(handles, ['pooled\u2212mean', 'range'], loc='lower right', fontsize=FS,
                  borderaxespad=0, fancybox=False, framealpha=1, edgecolor='black',
                  handlelength=1.9, handletextpad=0.9, borderpad=0.6, labelspacing=0.3)
leg.get_frame().set_linewidth(1.1)

# panel separators
fig.add_artist(Rectangle((0, 0), 1, 1, transform=fig.transFigure, fill=False, edgecolor='#333333', lw=2))
fig.add_artist(Line2D([0, 1], [1 - 436 / H] * 2, transform=fig.transFigure, color='#222222', lw=1.6))
fig.add_artist(Line2D([0.5, 0.5], [0, 1 - 436 / H], transform=fig.transFigure, color='#222222', lw=1.6))

fig.savefig('out.png', dpi=100)
